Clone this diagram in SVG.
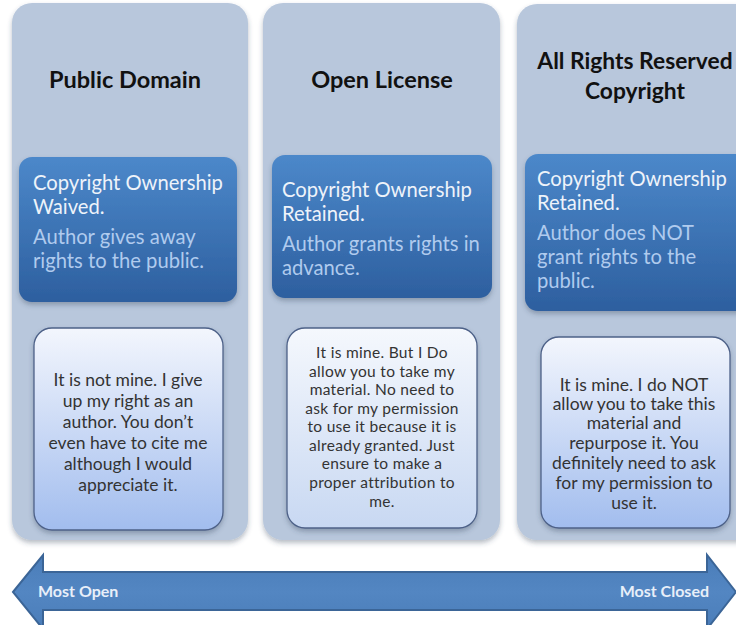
<svg xmlns="http://www.w3.org/2000/svg" width="736" height="625" viewBox="0 0 736 625">
  <defs>
    <linearGradient id="gBlue" x1="0" y1="0" x2="0" y2="1">
      <stop offset="0" stop-color="#4c88ca"/>
      <stop offset="1" stop-color="#2d5f9f"/>
    </linearGradient>
    <linearGradient id="gNote" x1="0" y1="0" x2="0" y2="1">
      <stop offset="0" stop-color="#f3f6fd"/>
      <stop offset="1" stop-color="#a2bdee"/>
    </linearGradient>
    <linearGradient id="gNote2" x1="0" y1="0" x2="0" y2="1">
      <stop offset="0" stop-color="#f5f8fd"/>
      <stop offset="1" stop-color="#c8d8f2"/>
    </linearGradient>
    <linearGradient id="gArrow" x1="0" y1="0" x2="0" y2="1">
      <stop offset="0" stop-color="#4a7db9"/>
      <stop offset="0.5" stop-color="#5386c2"/>
      <stop offset="1" stop-color="#4a7db9"/>
    </linearGradient>
    <filter id="shadow" x="-10%" y="-10%" width="120%" height="125%">
      <feDropShadow dx="0" dy="3" stdDeviation="2.5" flood-color="#33415a" flood-opacity="0.35"/>
    </filter>
  </defs>
  <style>
    .col { fill: #b8c7dc; }
    .title { font-family: Lato, "Liberation Sans", sans-serif; font-weight: bold; font-size: 23.5px; fill: #111111; text-anchor: middle; }
    .title3 { font-family: Lato, "Liberation Sans", sans-serif; font-weight: bold; font-size: 22.8px; fill: #111111; text-anchor: middle; }
    .blue { fill: url(#gBlue); }
    .t1 { font-family: Lato, "Liberation Sans", sans-serif; font-size: 20.2px; fill: #eef3fa; }
    .t2 { font-family: Lato, "Liberation Sans", sans-serif; font-size: 20.2px; fill: #b0cbee; }
    .note { stroke: #4d6188; stroke-width: 1.3; }
    .nt { font-family: Lato, "Liberation Sans", sans-serif; font-size: 17.5px; fill: #333333; text-anchor: middle; }
    .nt2 { font-family: Lato, "Liberation Sans", sans-serif; font-size: 15.5px; letter-spacing: 0.3px; fill: #333333; text-anchor: middle; }
    .lab { font-family: Lato, "Liberation Sans", sans-serif; font-weight: bold; font-size: 16px; fill: #e8eff9; }
  </style>
  <rect width="736" height="625" fill="#ffffff"/>

  <g id="public-domain">
    <rect class="col" x="12" y="3" width="236" height="537" rx="20" filter="url(#shadow)"/>
    <text class="title" x="125" y="88">Public Domain</text>
    <rect class="blue" x="19" y="157" width="218" height="145" rx="13" filter="url(#shadow)"/>
    <text class="t1" x="33" y="190">Copyright Ownership</text>
    <text class="t1" x="33" y="214">Waived.</text>
    <text class="t2" x="33" y="244">Author gives away</text>
    <text class="t2" x="33" y="268">rights to the public.</text>
    <rect class="note" x="34" y="328" width="189" height="202" rx="18" fill="url(#gNote)" filter="url(#shadow)"/>
    <text class="nt" x="128" y="386">It is not mine. I give</text>
    <text class="nt" x="128" y="407">up my right as an</text>
    <text class="nt" x="128" y="428">author.  You don’t</text>
    <text class="nt" x="128" y="449">even have to cite me</text>
    <text class="nt" x="128" y="470">although I would</text>
    <text class="nt" x="128" y="491">appreciate it.</text>
  </g>

  <g id="open-license">
    <rect class="col" x="263" y="3" width="237" height="537" rx="20" filter="url(#shadow)"/>
    <text class="title" x="382" y="88">Open License</text>
    <rect class="blue" x="272" y="155" width="220" height="143" rx="13" filter="url(#shadow)"/>
    <text class="t1" x="282" y="197">Copyright Ownership</text>
    <text class="t1" x="282" y="221">Retained.</text>
    <text class="t2" x="282" y="251">Author grants rights in</text>
    <text class="t2" x="282" y="275">advance.</text>
    <rect class="note" x="287" y="328" width="190" height="200" rx="18" fill="url(#gNote2)" filter="url(#shadow)"/>
    <text class="nt2" x="382" y="358">It is mine. But I Do</text>
    <text class="nt2" x="382" y="377">allow you to take my</text>
    <text class="nt2" x="382" y="395">material. No need to</text>
    <text class="nt2" x="382" y="414">ask for my permission</text>
    <text class="nt2" x="382" y="432">to use it because it is</text>
    <text class="nt2" x="382" y="451">already granted. Just</text>
    <text class="nt2" x="382" y="469">ensure to make a</text>
    <text class="nt2" x="382" y="488">proper attribution to</text>
    <text class="nt2" x="382" y="507">me.</text>
  </g>

  <g id="all-rights-reserved">
    <rect class="col" x="517" y="4" width="240" height="536" rx="20" filter="url(#shadow)"/>
    <text class="title3" x="635" y="69">All Rights Reserved</text>
    <text class="title3" x="635" y="99">Copyright</text>
    <rect class="blue" x="525" y="154" width="230" height="157" rx="13" filter="url(#shadow)"/>
    <text class="t1" x="537" y="186">Copyright Ownership</text>
    <text class="t1" x="537" y="210">Retained.</text>
    <text class="t2" x="537" y="240">Author does NOT</text>
    <text class="t2" x="537" y="264">grant rights to the</text>
    <text class="t2" x="537" y="288">public.</text>
    <rect class="note" x="541" y="337" width="189" height="191" rx="18" fill="url(#gNote)" filter="url(#shadow)"/>
    <text class="nt" x="634" y="391">It is mine. I do NOT</text>
    <text class="nt" x="634" y="410">allow you to take this</text>
    <text class="nt" x="634" y="429">material and</text>
    <text class="nt" x="634" y="449">repurpose it. You</text>
    <text class="nt" x="634" y="469">definitely need to ask</text>
    <text class="nt" x="634" y="489">for my permission to</text>
    <text class="nt" x="634" y="509">use it.</text>
  </g>

  <g id="connectors">
    <g id="openness-arrow">
      <path d="M13,592 L43,555 L43,572 L707,572 L707,555 L736,592 L707,629 L707,610 L43,610 L43,629 Z" fill="url(#gArrow)" stroke="#3b6597" stroke-width="2" stroke-linejoin="miter"/>
      <text class="lab" x="38" y="597">Most Open</text>
      <text class="lab" x="709" y="597" text-anchor="end">Most Closed</text>
    </g>
  </g>
</svg>
